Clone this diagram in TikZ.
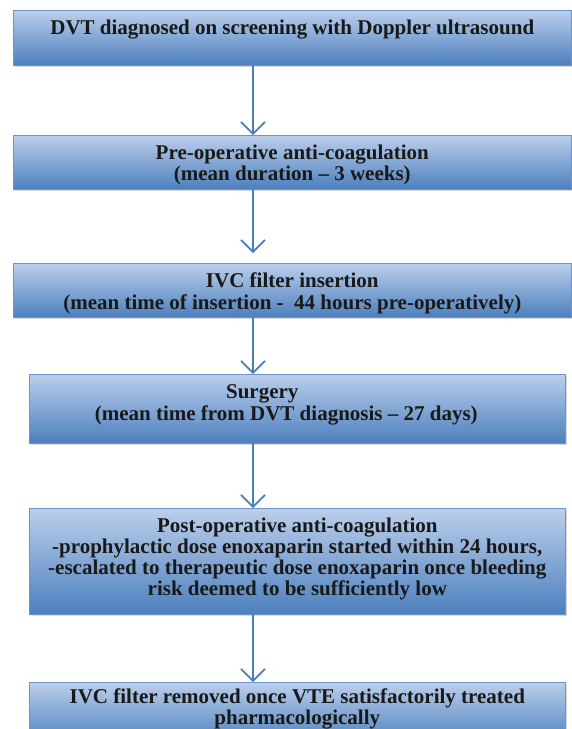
\documentclass[tikz,border=0pt]{standalone}
\usepackage{fontspec}
\setmainfont{Liberation Serif}
\usepackage{tikz}
\usetikzlibrary{shadows,arrows.meta}
\definecolor{boxtop}{HTML}{BBCFEB}
\definecolor{boxbottom}{HTML}{4C7FBD}
\definecolor{boxline}{HTML}{6D93C9}
\definecolor{arrowblue}{HTML}{4A7EBB}
\newcommand{\flowtext}[4][9pt]{%
  \begin{minipage}[c][#3][t]{#2}
    \vspace*{#1}\centering\strut #4
  \end{minipage}}

\begin{document}
\begin{tikzpicture}[x=1pt,y=-1pt,
    flowbox/.style={draw=boxline,line width=0.6pt,top color=boxtop,bottom color=boxbottom,
      inner sep=0pt,anchor=north west,text=black!90,font=\bfseries\fontsize{21}{21}\selectfont,
      drop shadow={shadow xshift=1.5pt,shadow yshift=-2pt,opacity=0.3}},
    flowarrow/.style={draw=arrowblue,line width=1.6pt,line cap=round,
      -{Straight Barb[length=12pt,width=24pt,line width=1.6pt]}}]
  \useasboundingbox (0,0) rectangle (572,729);
  \coordinate (spine) at (253,0);

  \node[flowbox] (dvt) at (13,10) {\flowtext{558pt}{55pt}{DVT diagnosed on screening with Doppler ultrasound}};
  \node[flowbox] (preop) at (13,135) {\flowtext{558pt}{54pt}{Pre-operative anti-coagulation\\
    (mean duration -- 3 weeks)}};
  \node[flowbox] (ivc) at (13,263) {\flowtext{558pt}{54pt}{IVC filter insertion\\
    (mean time of insertion -\ \ 44 hours pre-operatively)}};
  \node[flowbox] (surgery) at (29,374) {\flowtext{536pt}{69pt}{Surgery\hspace*{70pt}\mbox{}\\
    (mean time from DVT diagnosis -- 27 days)\hspace*{22pt}\mbox{}}};
  \node[flowbox] (postop) at (29,508) {\flowtext{536pt}{106pt}{Post-operative anti-coagulation\\
    -prophylactic dose enoxaparin started within 24 hours,\\
    -escalated to therapeutic dose enoxaparin once bleeding\\
    risk deemed to be sufficiently low}};
  \node[flowbox] (removal) at (29,682) {\flowtext[6pt]{536pt}{62pt}{IVC filter removed once VTE satisfactorily treated\\
    pharmacologically}};

  \draw[flowarrow] (dvt.south -| spine) -- (preop.north -| spine);
  \draw[flowarrow,shorten >=10pt] (preop.south -| spine) -- (ivc.north -| spine);
  \draw[flowarrow] (ivc.south -| spine) -- (surgery.north -| spine);
  \draw[flowarrow] (surgery.south -| spine) -- (postop.north -| spine);
  \draw[flowarrow] (postop.south -| spine) -- (removal.north -| spine);
\end{tikzpicture}
\end{document}
